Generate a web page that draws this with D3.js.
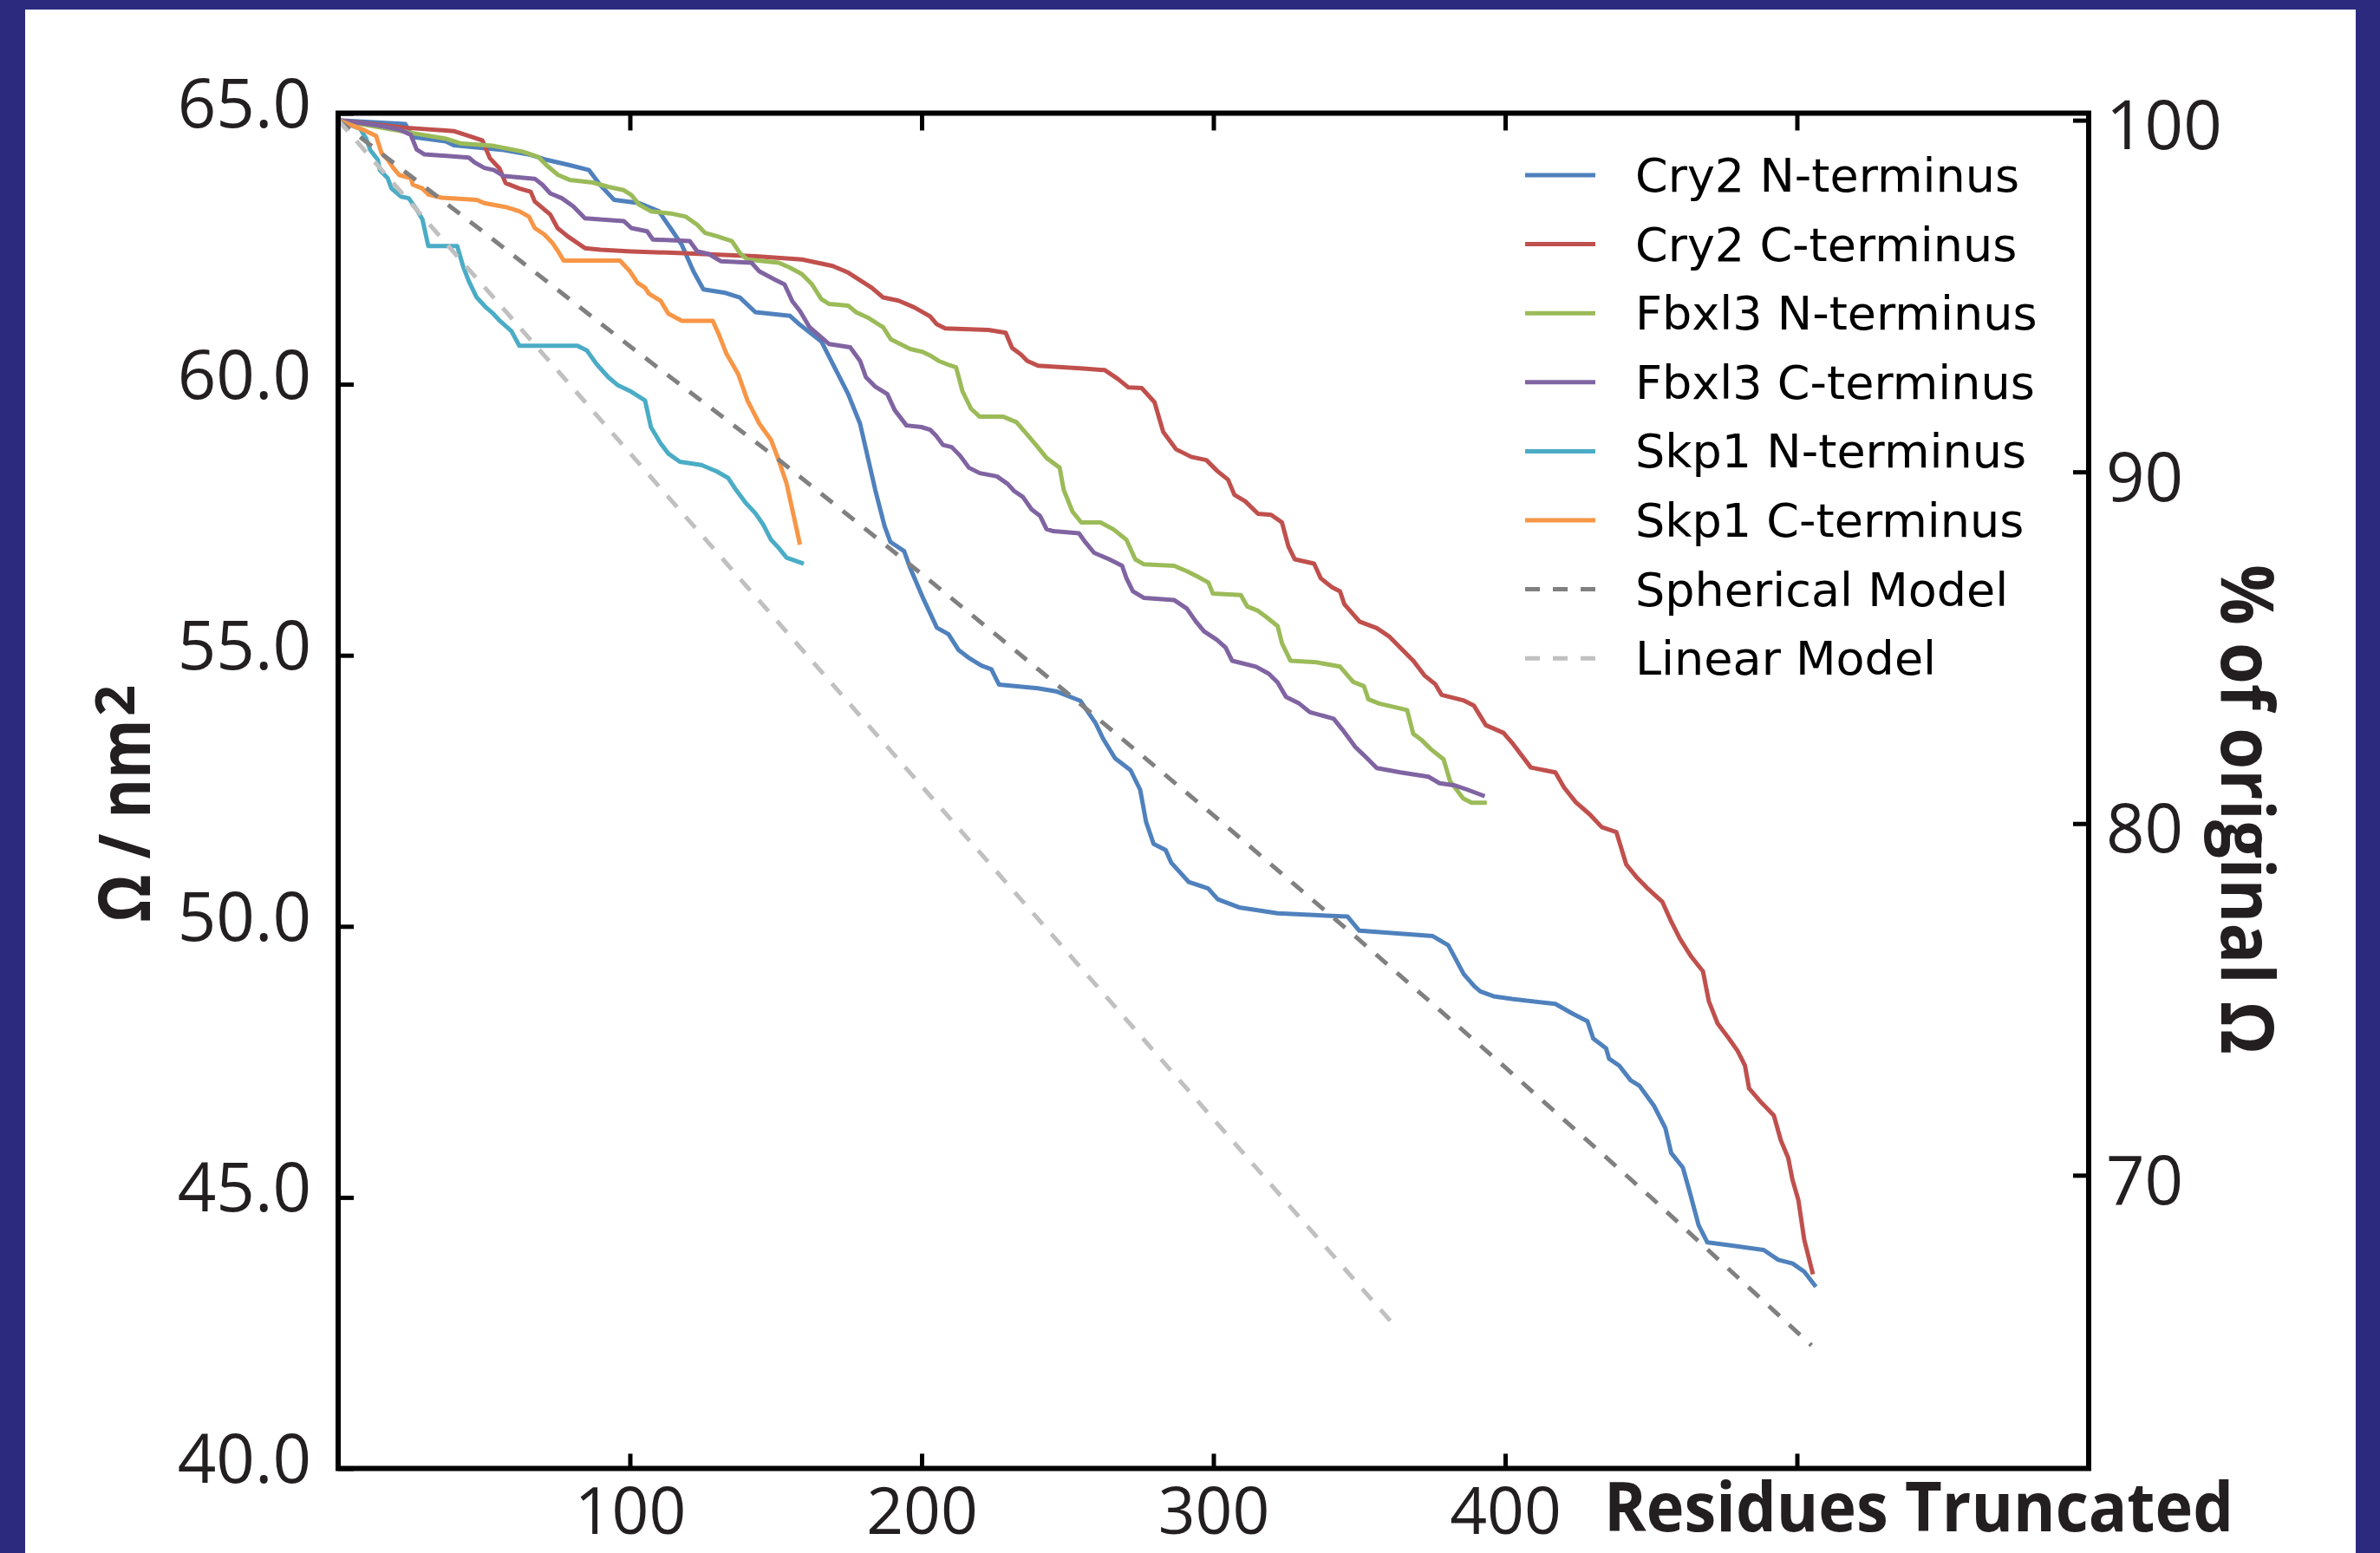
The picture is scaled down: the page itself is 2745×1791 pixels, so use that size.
<!DOCTYPE html>
<html><head><meta charset="utf-8">
<script src="https://cdn.jsdelivr.net/npm/d3@7"></script>
<style>
html,body{margin:0;padding:0;background:#fff;}
svg{display:block;}
</style></head>
<body>
<svg id="chart" width="2745" height="1791"></svg>
<script>
// ---------------- DATA ----------------
const OMEGA0 = 64.87; // original Ω (100 %)

const cry2N = [[0,64.87],[23,64.80],[25.6,64.56],[36.9,64.48],[39.6,64.41],[56.8,64.32],[66,64.23],[71.4,64.14],[79.4,64.04],[86,63.95],[89.9,63.67],[94.6,63.40],[103.2,63.34],[109.9,63.19],[113.9,62.88],[117.8,62.57],[121.8,62.08],[125.2,61.75],[132.3,61.69],[137.7,61.60],[143,61.33],[154.9,61.26],[158.2,61.10],[165.6,60.79],[169.5,60.38],[174.8,59.82],[178.9,59.27],[184.1,58.05],[187.3,57.38],[189.3,57.09],[194,56.92],[196,56.62],[200.6,56.04],[205.2,55.51],[209.2,55.39],[212.6,55.10],[216.5,54.94],[220.5,54.81],[223.9,54.74],[226.5,54.46],[239.8,54.39],[246.4,54.33],[254.4,54.16],[259.6,53.75],[262.2,53.46],[266.3,53.10],[271.6,52.88],[274.9,52.52],[276.9,51.93],[279.5,51.52],[283.6,51.41],[285.6,51.17],[291.5,50.82],[298.2,50.70],[301.5,50.50],[308.8,50.35],[322,50.24],[346,50.18],[350,49.92],[375.2,49.82],[380.5,49.65],[385.8,49.12],[389.5,48.89],[391.5,48.80],[396,48.71],[402.3,48.66],[417.2,48.57],[423.1,48.39],[428.2,48.25],[430.2,47.93],[434.6,47.75],[435.6,47.56],[439.1,47.43],[443,47.16],[446,47.06],[451,46.69],[454.9,46.28],[456.9,45.82],[460.9,45.55],[463.3,45.09],[466.3,44.49],[469.3,44.17],[476.7,44.12],[488.6,44.03],[493.6,43.85],[498.5,43.78],[502.5,43.63],[506.5,43.35]];

const cry2C = [[0,64.87],[23.5,64.73],[39.6,64.67],[44.2,64.59],[49.4,64.50],[52,64.17],[55.3,63.98],[57.4,63.71],[62.1,63.61],[66,63.55],[67.4,63.37],[72.7,63.13],[75.2,62.88],[78.6,62.73],[84.6,62.51],[89.9,62.48],[100.5,62.45],[116.5,62.42],[143,62.36],[159,62.30],[169.5,62.18],[174.8,62.06],[182.9,61.78],[186.8,61.60],[192.1,61.54],[197.4,61.42],[202.9,61.25],[205.1,61.11],[208.1,61.03],[222.9,61.00],[228.8,60.95],[231,60.67],[234,60.55],[236.2,60.43],[239.9,60.34],[255.4,60.29],[262.8,60.26],[267.2,60.10],[270.9,59.94],[275.4,59.93],[279.8,59.67],[282.8,59.12],[287.2,58.80],[292.4,58.66],[297.6,58.60],[301.3,58.40],[305,58.24],[307.2,57.96],[310.9,57.84],[315.3,57.61],[319.8,57.59],[323.5,57.45],[325.7,57.01],[327.9,56.77],[334.5,56.69],[336.8,56.42],[340.5,56.26],[343.4,56.18],[344.9,55.94],[350.1,55.62],[356,55.50],[360.4,55.34],[364.8,55.10],[368.5,54.90],[372.3,54.63],[376,54.47],[378.2,54.27],[385.6,54.17],[389.3,54.07],[393.4,53.71],[399.4,53.57],[402.3,53.39],[408.8,52.93],[417.2,52.84],[420.2,52.56],[424.2,52.29],[429.1,52.06],[433.1,51.83],[438.1,51.74],[441.5,51.14],[445,50.91],[449,50.69],[453.9,50.45],[456.9,50.09],[459.9,49.77],[463.8,49.44],[467.8,49.17],[469.8,48.62],[472.8,48.21],[476.7,47.93],[479.7,47.70],[482.2,47.43],[483.6,47.01],[487.1,46.79],[492.1,46.51],[494.5,46.05],[497,45.73],[498.5,45.32],[500.5,44.95],[502.5,44.22],[505.5,43.58]];

const fbxl3N = [[0,64.87],[23.5,64.65],[36.9,64.53],[42.2,64.44],[52.8,64.40],[63.3,64.29],[68.7,64.19],[71.4,64.04],[75.4,63.86],[79.3,63.77],[87.3,63.72],[92.6,63.64],[97.9,63.58],[100.5,63.49],[103.2,63.31],[107.2,63.19],[113.9,63.15],[119.2,63.09],[123.1,62.94],[125.8,62.79],[129.8,62.73],[135,62.64],[137.7,62.42],[140.3,62.30],[151,62.24],[154.9,62.15],[159,62.03],[162.3,61.85],[165.6,61.57],[168.3,61.48],[174.8,61.45],[177.5,61.33],[181.5,61.23],[186.8,61.05],[189.4,60.83],[196.1,60.65],[200.1,60.60],[202.9,60.53],[205.8,60.43],[209.6,60.35],[211.8,60.31],[214,59.87],[216.9,59.55],[219.9,59.40],[228,59.40],[232.5,59.30],[235.4,59.12],[239.2,58.88],[242.8,58.64],[247.3,58.46],[248.7,58.05],[251.7,57.65],[254.7,57.45],[261.3,57.45],[265.8,57.32],[270.2,57.13],[273.2,56.77],[276.1,56.68],[286.5,56.65],[290.9,56.55],[294.6,56.45],[298.3,56.34],[299.8,56.14],[309.4,56.11],[311.6,55.90],[315.3,55.82],[318.3,55.70],[322,55.54],[323.5,55.22],[326.4,54.90],[335.3,54.87],[343.4,54.79],[347.9,54.51],[351.6,54.43],[353.1,54.19],[356.8,54.11],[366.4,53.99],[368.5,53.55],[371.5,53.43],[374.5,53.27],[378.9,53.08],[381.1,52.68],[385.6,52.36],[388.5,52.28],[393.7,52.28]];

const fbxl3C = [[0,64.87],[13,64.78],[20.9,64.70],[24.9,64.60],[26.9,64.33],[29.6,64.24],[44.8,64.18],[46.8,64.09],[50.1,63.99],[53.4,63.95],[56.8,63.84],[67.4,63.79],[70,63.68],[72.7,63.52],[76.7,63.43],[80.6,63.28],[84.6,63.06],[97.9,63.01],[100.5,62.88],[105.9,62.82],[107.9,62.67],[120.5,62.64],[123.1,62.45],[127.1,62.40],[131.1,62.27],[141.7,62.24],[144.4,62.08],[149.7,61.93],[153,61.84],[155.7,61.53],[158.3,61.35],[161.6,61.05],[168.3,60.74],[175.5,60.68],[178.9,60.43],[180.9,60.13],[184.2,59.95],[188.2,59.82],[190.8,59.52],[194.8,59.24],[199.9,59.21],[202.9,59.16],[205.1,59.04],[207.3,58.88],[210.3,58.84],[213.2,58.68],[216.2,58.46],[219.9,58.36],[225.8,58.30],[229.5,58.16],[231.7,58.03],[234.7,57.92],[237.7,57.69],[240.6,57.57],[242.8,57.33],[245.1,57.29],[253.9,57.25],[256.2,57.08],[259.1,56.89],[264.3,56.77],[268.7,56.65],[270.2,56.42],[272.4,56.18],[276.1,56.06],[286.5,56.02],[290.9,55.86],[293.9,55.63],[296.8,55.44],[301.3,55.28],[304.2,55.14],[306.4,54.90],[314.6,54.79],[319,54.66],[322,54.50],[324.9,54.23],[329.4,54.11],[333.1,53.95],[341.2,53.83],[344.2,53.63],[348.6,53.31],[352.3,53.12],[356,52.92],[364.1,52.84],[373.7,52.76],[377.5,52.64],[382.6,52.60],[387.1,52.52],[393,52.40]];

const skp1N = [[0,64.87],[7.6,64.71],[9.6,64.53],[11,64.32],[13.6,64.14],[14.3,63.95],[17,63.80],[18.3,63.61],[21.6,63.46],[24.2,63.43],[26.9,63.22],[28.9,63.04],[30.9,62.55],[40.8,62.55],[42.8,62.18],[44.8,61.90],[47.5,61.60],[50.8,61.41],[52.8,61.32],[55.4,61.17],[59.4,60.98],[62.1,60.71],[82,60.71],[85.3,60.62],[88.6,60.37],[92.6,60.13],[95.9,59.98],[100.5,59.86],[105.2,59.70],[107.2,59.21],[110.5,58.91],[113.2,58.72],[117.1,58.57],[124.5,58.51],[129.8,58.39],[133.7,58.27],[136.4,58.05],[139.7,57.81],[143,57.62],[145.7,57.41],[148.4,57.13],[151,56.98],[153.7,56.80],[159.6,56.69]];

const skp1C = [[0,64.87],[5,64.77],[9.6,64.67],[13,64.58],[14.9,64.26],[17,64.14],[18.9,63.99],[20.9,63.86],[24.9,63.80],[25.6,63.68],[28.9,63.61],[30.9,63.50],[35.5,63.44],[47.5,63.40],[50.1,63.34],[58.1,63.26],[62.1,63.19],[65.4,63.09],[67.4,62.88],[70.7,62.76],[73.4,62.61],[75.4,62.45],[77.3,62.28],[96.6,62.28],[99.9,62.09],[102.6,61.87],[105.2,61.78],[106.5,61.67],[110.5,61.54],[113.2,61.30],[117.8,61.17],[128.4,61.17],[130.4,60.93],[133.1,60.56],[137.1,60.19],[140.3,59.70],[144.4,59.27],[148.4,58.97],[151,58.60],[153.7,58.17],[155.7,57.68],[158.3,57.04]];

const sphericalModel = [[0,64.87],[50,62.80],[100,60.70],[150,58.65],[200,56.50],[250,54.30],[300,52.05],[350,49.75],[400,47.40],[450,45.00],[505,42.27]];
const linearModel = [[0,64.87],[361,42.70]];

const seriesNames = ["Cry2 N-terminus","Cry2 C-terminus","Fbxl3 N-terminus","Fbxl3 C-terminus","Skp1 N-terminus","Skp1 C-terminus","Spherical Model","Linear Model"];

const xTicks = [100,200,300,400,500];
const xTickLabels = ["100","200","300","400",""];
const yTicks = [40,45,50,55,60,65];
const yTickLabels = ["40.0","45.0","50.0","55.0","60.0","65.0"];
const pctTicks = [70,80,90,100];
const pctTickLabels = ["70","80","90","100"];

const xTitle = "Residues Truncated";
const yTitleMain = "Ω / nm";
const yTitleSup = "2";
const y2Title = "% of original Ω";

// ---------------- STYLE / LAYOUT ----------------
const seriesData = [cry2N, cry2C, fbxl3N, fbxl3C, skp1N, skp1C, sphericalModel, linearModel];
const seriesColors = ["#4f81bd","#c0504d","#9bbb59","#8064a2","#4bacc6","#f79646","#808080","#c0c0c0"];
const seriesDash = [null,null,null,null,null,null,"17,15","17,15"];

const W = 2745, H = 1791;
const P = {left:390, right:2409, top:130.5, bottom:1693.5};
const tickFont = "'Open Sans', 'Noto Sans', sans-serif";
const textColor = "#231f20";

const svg = d3.select("#chart");

// border / background
svg.append("rect").attr("x",0).attr("y",0).attr("width",W).attr("height",H).attr("fill","#2b2a7f");
svg.append("rect").attr("x",29).attr("y",11).attr("width",2717-29).attr("height",H-11).attr("fill","#ffffff");

const x = d3.scaleLinear().domain([0,600]).range([P.left,P.right]);
const y = d3.scaleLinear().domain([40,65]).range([P.bottom,P.top]);
const yPct = d3.scaleLinear().domain([40/OMEGA0*100, 65/OMEGA0*100]).range([P.bottom,P.top]);

// series lines
const line = d3.line().x(d=>x(d[0])).y(d=>y(d[1]));
seriesData.forEach((data,i)=>{
  svg.append("path")
    .datum(data)
    .attr("d", line)
    .attr("fill","none")
    .attr("stroke", seriesColors[i])
    .attr("stroke-width", 5)
    .attr("stroke-linejoin","round")
    .attr("stroke-linecap","butt")
    .attr("stroke-dasharray", seriesDash[i]);
});

// axes
function styleAxis(g, fs){
  g.select(".domain").remove();
  g.selectAll(".tick line").attr("stroke","#000").attr("stroke-width",5);
  g.attr("font-family", tickFont).attr("font-size", fs);
  g.selectAll(".tick text").attr("fill", textColor);
}

const gLeft = svg.append("g").attr("transform",`translate(${P.left},0)`)
  .call(d3.axisLeft(y).tickValues(yTicks).tickFormat((d,i)=>yTickLabels[i]).tickSizeInner(-18).tickSizeOuter(0).tickPadding(31));
styleAxis(gLeft, 78);
gLeft.selectAll(".tick text").attr("dy",null).attr("y",16);

const gBottom = svg.append("g").attr("transform",`translate(0,${P.bottom})`)
  .call(d3.axisBottom(x).tickValues(xTicks).tickFormat((d,i)=>xTickLabels[i]).tickSizeInner(-17).tickSizeOuter(0));
styleAxis(gBottom, 75);
gBottom.selectAll(".tick text").attr("dy",null).attr("y",75);

const gTop = svg.append("g").attr("transform",`translate(0,${P.top})`)
  .call(d3.axisTop(x).tickValues(xTicks).tickFormat("").tickSizeInner(-20).tickSizeOuter(0));
styleAxis(gTop, 78);

const gRight = svg.append("g").attr("transform",`translate(${P.right},0)`)
  .call(d3.axisRight(yPct).tickValues(pctTicks).tickFormat((d,i)=>pctTickLabels[i]).tickSizeInner(-18).tickSizeOuter(0).tickPadding(20));
styleAxis(gRight, 78);
gRight.selectAll(".tick text").attr("dy",null).attr("y",33);

// frame
svg.append("rect").attr("x",P.left).attr("y",P.top).attr("width",P.right-P.left).attr("height",P.bottom-P.top)
  .attr("fill","none").attr("stroke","#000").attr("stroke-width",6);

// titles
svg.append("text").attr("x",1850).attr("y",1766)
  .attr("font-family",tickFont).attr("font-weight",700).attr("font-size",79).attr("fill",textColor)
  .attr("textLength",726).attr("lengthAdjust","spacingAndGlyphs").text(xTitle);

svg.append("text").attr("transform","translate(173,1063.5) rotate(-90)")
  .attr("font-family",tickFont).attr("font-weight",700).attr("font-size",83).attr("fill",textColor)
  .attr("textLength",234).attr("lengthAdjust","spacingAndGlyphs").text(yTitleMain);
svg.append("text").attr("transform","translate(155,826) rotate(-90)")
  .attr("font-family",tickFont).attr("font-weight",700).attr("font-size",63).attr("fill",textColor)
  .text(yTitleSup);

svg.append("text").attr("transform","translate(2562,651) rotate(90)")
  .attr("font-family",tickFont).attr("font-weight",700).attr("font-size",84).attr("fill",textColor)
  .attr("textLength",565).attr("lengthAdjust","spacingAndGlyphs").text(y2Title);

// legend
const legend = svg.append("g");
seriesNames.forEach((name,i)=>{
  const ry = 202 + 79.6*i;
  legend.append("line").attr("x1",1759).attr("x2",1840).attr("y1",ry).attr("y2",ry)
    .attr("stroke",seriesColors[i]).attr("stroke-width",5).attr("stroke-dasharray",seriesDash[i]);
  legend.append("text").attr("x",1886).attr("y",ry+19)
    .attr("font-family","'DejaVu Sans', sans-serif").attr("font-size",54).attr("fill","#000").text(name);
});
</script>
</body></html>
